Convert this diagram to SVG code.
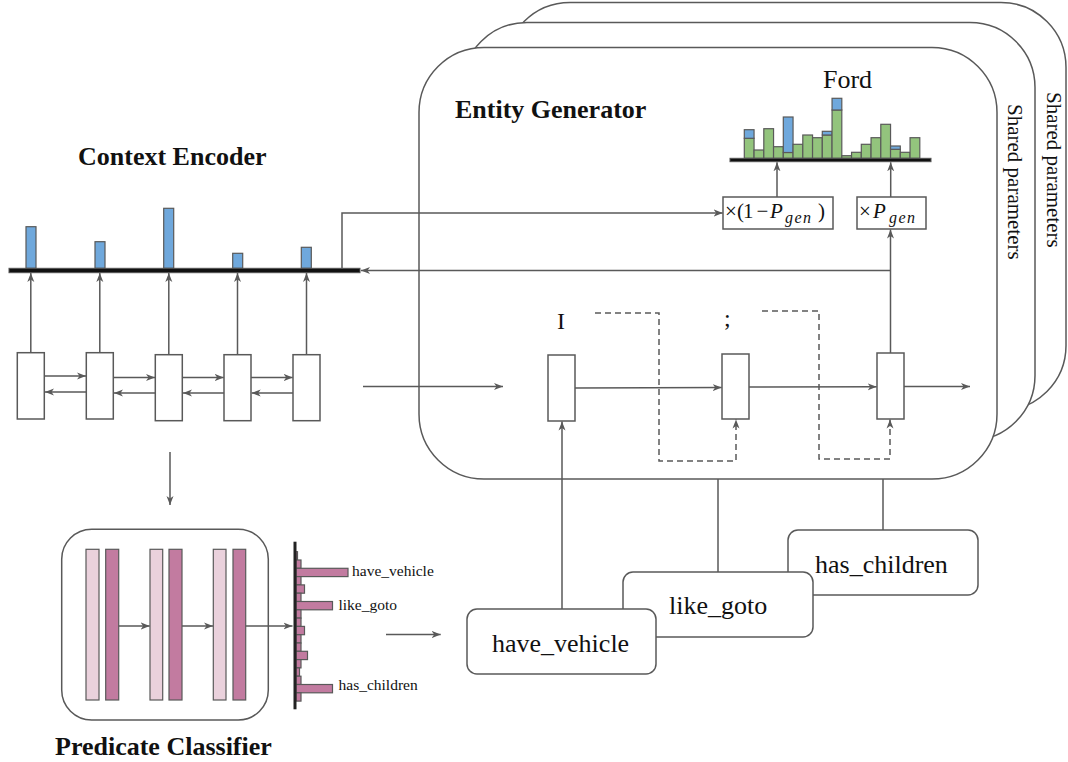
<svg xmlns="http://www.w3.org/2000/svg" width="1068" height="762" viewBox="0 0 1068 762">
<style>
.ln{fill:none;stroke:#595959;stroke-width:1.5}
.dash{stroke-dasharray:6 4}
.cell{fill:#fff;stroke:#595959;stroke-width:1.5}
.panel{fill:#fff;stroke:#595959;stroke-width:1.5}
.t{font-family:"Liberation Serif","Times New Roman",serif;fill:#111}
.b{font-weight:bold;font-size:26px}
.blue{fill:#6fa8dc;stroke:#595959;stroke-width:1.2}
.green{fill:#93c47d;stroke:#595959;stroke-width:1.2}
.pl{fill:#ead1dc;stroke:#595959;stroke-width:1.2}
.pd{fill:#c27ba0;stroke:#595959;stroke-width:1.2}
.node{fill:#fff;stroke:#595959;stroke-width:1.5}
</style>
<defs>
<marker id="ah" markerUnits="userSpaceOnUse" markerWidth="10" markerHeight="8" viewBox="0 0 10 8" refX="9" refY="4" orient="auto">
<path d="M0,0.5 L9,4 L0,7.5 L2.5,4 Z" fill="#595959"/>
</marker>
</defs>
<rect width="1068" height="762" fill="#fff"/>

<!-- Entity generator panels -->
<g id="panel-back">
<rect class="panel" x="505" y="2.5" width="561" height="408" rx="65"/>
<text class="t" font-size="21" transform="translate(1046.5,92) rotate(90)">Shared parameters</text>
</g>
<g id="panel-middle">
<rect class="panel" x="462" y="22.5" width="573" height="418" rx="65"/>
<text class="t" font-size="21" transform="translate(1007.5,104) rotate(90)">Shared parameters</text>
</g>
<g id="panel-front">
<rect class="panel" x="419" y="47.5" width="578" height="431.5" rx="65"/>
<text class="t b" x="455" y="118">Entity Generator</text>
</g>

<!-- Context encoder -->
<g id="context-encoder">
<text class="t b" x="78" y="165">Context Encoder</text>
<rect class="blue" x="26" y="226.7" width="10" height="41.6"/>
<rect class="blue" x="95" y="241.7" width="10" height="26.6"/>
<rect class="blue" x="163.7" y="208.3" width="10" height="60"/>
<rect class="blue" x="232.7" y="253.3" width="10" height="15"/>
<rect class="blue" x="301.3" y="247.3" width="10" height="21"/>
<rect x="9" y="268.3" width="351" height="4.4" fill="#111" stroke="#555" stroke-width="1"/>
<rect class="cell" x="17.3" y="352.7" width="27" height="66.3"/>
<rect class="cell" x="86.3" y="352.7" width="27" height="66.3"/>
<rect class="cell" x="155.3" y="354.7" width="27" height="66"/>
<rect class="cell" x="224" y="354.7" width="27" height="66"/>
<rect class="cell" x="293" y="354.7" width="27" height="66"/>
</g>

<!-- Predicate classifier -->
<g id="predicate-classifier">
<rect class="node" x="61.7" y="529.3" width="206.6" height="190.7" rx="30"/>
<rect class="pl" x="86" y="549.3" width="13" height="150.7"/>
<rect class="pd" x="105.7" y="549.3" width="13" height="150.7"/>
<rect class="pl" x="150" y="549.3" width="12.7" height="150.7"/>
<rect class="pd" x="169" y="549.3" width="13" height="150.7"/>
<rect class="pl" x="213.3" y="549.3" width="12.7" height="150.7"/>
<rect class="pd" x="233" y="549.3" width="12.7" height="150.7"/>
<text class="t b" x="55" y="755">Predicate Classifier</text>
</g>

<g id="predicate-histogram">
<rect class="pd" x="296" y="551.7" width="1.5" height="8.3"/>
<rect class="pd" x="296" y="560" width="5" height="8.3"/>
<rect class="pd" x="296" y="568.3" width="52" height="8.3"/>
<rect class="pd" x="296" y="576.6" width="5" height="8.3"/>
<rect class="pd" x="296" y="584.9" width="8.5" height="8.3"/>
<rect class="pd" x="296" y="593.2" width="5" height="8.3"/>
<rect class="pd" x="296" y="601.5" width="36.5" height="8.3"/>
<rect class="pd" x="296" y="609.8" width="5" height="8.3"/>
<rect class="pd" x="296" y="618.1" width="5" height="8.3"/>
<rect class="pd" x="296" y="626.4" width="8.5" height="8.3"/>
<rect class="pd" x="296" y="634.7" width="5" height="8.3"/>
<rect class="pd" x="296" y="643" width="5" height="8.3"/>
<rect class="pd" x="296" y="651.3" width="11.5" height="8.3"/>
<rect class="pd" x="296" y="659.6" width="5" height="8.3"/>
<rect class="pd" x="296" y="667.9" width="3.5" height="8.3"/>
<rect class="pd" x="296" y="676.2" width="5" height="8.3"/>
<rect class="pd" x="296" y="684.5" width="36.5" height="8.3"/>
<rect class="pd" x="296" y="692.8" width="5" height="8.3"/>
<rect x="293.5" y="541.7" width="3" height="167.6" fill="#222"/>
<text class="t" font-size="15.5" x="352" y="576">have_vehicle</text>
<text class="t" font-size="15.5" x="338.5" y="610">like_goto</text>
<text class="t" font-size="15.5" x="338.5" y="690">has_children</text>
</g>

<!-- Copy distribution (Ford) -->
<g id="output-distribution">
<text class="t" font-size="26" x="823" y="88">Ford</text>
<rect class="green" x="744.3" y="138.3" width="9.75" height="20"/>
<rect class="blue" x="744.3" y="129.7" width="9.75" height="8.6"/>
<rect class="green" x="754.05" y="150" width="9.75" height="8.3"/>
<rect class="green" x="763.8" y="128.7" width="9.75" height="29.6"/>
<rect class="green" x="773.55" y="146.7" width="9.75" height="11.6"/>
<rect class="green" x="783.3" y="152.5" width="9.75" height="5.8"/>
<rect class="blue" x="783.3" y="117" width="9.75" height="35.5"/>
<rect class="green" x="793.05" y="144.3" width="9.75" height="14"/>
<rect class="green" x="802.8" y="135" width="9.75" height="23.3"/>
<rect class="green" x="812.55" y="137.7" width="9.75" height="20.6"/>
<rect class="green" x="822.3" y="135" width="9.75" height="23.3"/>
<rect class="blue" x="822.3" y="131.3" width="9.75" height="3.7"/>
<rect class="green" x="832.05" y="110" width="9.75" height="48.3"/>
<rect class="blue" x="832.05" y="98.3" width="9.75" height="11.7"/>
<rect class="green" x="841.8" y="155.7" width="9.75" height="2.6"/>
<rect class="green" x="851.55" y="152.3" width="9.75" height="6"/>
<rect class="green" x="861.3" y="144.3" width="9.75" height="14"/>
<rect class="green" x="871.05" y="137.7" width="9.75" height="20.6"/>
<rect class="green" x="880.8" y="124.3" width="9.75" height="34"/>
<rect class="green" x="890.55" y="149.3" width="9.75" height="9"/>
<rect class="blue" x="890.55" y="146" width="9.75" height="3.3"/>
<rect class="green" x="900.3" y="152.3" width="9.75" height="6"/>
<rect class="green" x="910.05" y="137.7" width="9.75" height="20.6"/>
<rect x="730" y="158.3" width="201" height="3.4" fill="#111" stroke="#555" stroke-width="1"/>
</g>

<g id="copy-gate">
<rect class="cell" x="723" y="197" width="110" height="32"/>
<text class="t" font-size="21" y="218"><tspan x="725">×</tspan><tspan x="737">(</tspan><tspan x="743">1</tspan><tspan x="756.5">−</tspan><tspan x="770" font-style="italic">P</tspan><tspan x="785" dy="5" font-style="italic" font-size="16" letter-spacing="1.5">gen</tspan><tspan x="818" dy="-5">)</tspan></text>
</g>
<g id="gen-gate">
<rect class="cell" x="857" y="197" width="69" height="32"/>
<text class="t" font-size="21" y="218"><tspan x="859">×</tspan><tspan x="873" font-style="italic">P</tspan><tspan x="889" dy="5" font-style="italic" font-size="16" letter-spacing="1.5">gen</tspan></text>
</g>

<!-- Decoder cells -->
<g id="dec-cell-1"><rect class="cell" x="548" y="355" width="27" height="66"/></g>
<g id="dec-cell-2"><rect class="cell" x="722" y="354" width="27" height="65"/></g>
<g id="dec-cell-3"><rect class="cell" x="877" y="353" width="27" height="66"/></g>
<text class="t" font-size="24" x="557" y="329">I</text>
<text class="t" font-size="24" x="724" y="326">;</text>

<!-- Predicate nodes -->
<g id="node-has-children">
<rect class="node" x="788" y="530" width="190" height="65" rx="10"/>
<text class="t" font-size="26" x="815" y="573">has_children</text>
</g>
<g id="node-like-goto">
<rect class="node" x="623" y="572" width="190" height="65" rx="10"/>
<text class="t" font-size="26" x="669" y="614">like_goto</text>
</g>
<g id="node-have-vehicle">
<rect class="node" x="467" y="609" width="189" height="65" rx="10"/>
<text class="t" font-size="26" x="492" y="652">have_vehicle</text>
</g>

<!-- Connectors -->
<g id="connectors">
<line class="ln" x1="30.8" y1="352.7" x2="30.8" y2="273" marker-end="url(#ah)"/>
<line class="ln" x1="99.8" y1="352.7" x2="99.8" y2="273" marker-end="url(#ah)"/>
<line class="ln" x1="168.8" y1="354.7" x2="168.8" y2="273" marker-end="url(#ah)"/>
<line class="ln" x1="237.5" y1="354.7" x2="237.5" y2="273" marker-end="url(#ah)"/>
<line class="ln" x1="306.5" y1="354.7" x2="306.5" y2="273" marker-end="url(#ah)"/>
<line class="ln" x1="44.3" y1="376" x2="86" y2="376" marker-end="url(#ah)"/>
<line class="ln" x1="86.3" y1="392" x2="45" y2="392" marker-end="url(#ah)"/>
<line class="ln" x1="113.3" y1="377.5" x2="155" y2="377.5" marker-end="url(#ah)"/>
<line class="ln" x1="155.3" y1="393" x2="114" y2="393" marker-end="url(#ah)"/>
<line class="ln" x1="182.3" y1="377.5" x2="223.7" y2="377.5" marker-end="url(#ah)"/>
<line class="ln" x1="224" y1="393" x2="183" y2="393" marker-end="url(#ah)"/>
<line class="ln" x1="251" y1="377.5" x2="292.7" y2="377.5" marker-end="url(#ah)"/>
<line class="ln" x1="293" y1="393" x2="251.7" y2="393" marker-end="url(#ah)"/>
<line class="ln" x1="363" y1="386.5" x2="503" y2="386.5" marker-end="url(#ah)"/>
<line class="ln" x1="170" y1="452" x2="170" y2="505" marker-end="url(#ah)"/>
<line class="ln" x1="118.7" y1="626" x2="149.7" y2="626" marker-end="url(#ah)"/>
<line class="ln" x1="182" y1="626" x2="213" y2="626" marker-end="url(#ah)"/>
<line class="ln" x1="245.7" y1="626" x2="292.5" y2="626" marker-end="url(#ah)"/>
<line class="ln" x1="386" y1="634.5" x2="440.7" y2="634.5" marker-end="url(#ah)"/>
<polyline class="ln" points="342,268.3 342,213 722.7,213" marker-end="url(#ah)"/>
<polyline class="ln" points="891,270.5 361,270.5" marker-end="url(#ah)"/>
<line class="ln" x1="890.5" y1="353" x2="890.5" y2="229.5" marker-end="url(#ah)"/>
<line class="ln" x1="777" y1="197" x2="777" y2="162.3" marker-end="url(#ah)"/>
<line class="ln" x1="890.7" y1="197" x2="890.7" y2="162.3" marker-end="url(#ah)"/>
<line class="ln" x1="575" y1="388" x2="721.7" y2="387.5" marker-end="url(#ah)"/>
<line class="ln" x1="749" y1="387" x2="876.7" y2="386.8" marker-end="url(#ah)"/>
<line class="ln" x1="904" y1="386.5" x2="970" y2="386.5" marker-end="url(#ah)"/>
<polyline class="ln dash" points="595,313 659,313 659,461 736,461 736,419.5" marker-end="url(#ah)"/>
<polyline class="ln dash" points="762,311 819,311 819,459 890,459 890,419.5" marker-end="url(#ah)"/>
<line class="ln" x1="562" y1="609" x2="562" y2="421.5" marker-end="url(#ah)"/>
<line class="ln" x1="718" y1="572" x2="718" y2="479"/>
<line class="ln" x1="883" y1="530" x2="883" y2="479"/>
</g>
</svg>
